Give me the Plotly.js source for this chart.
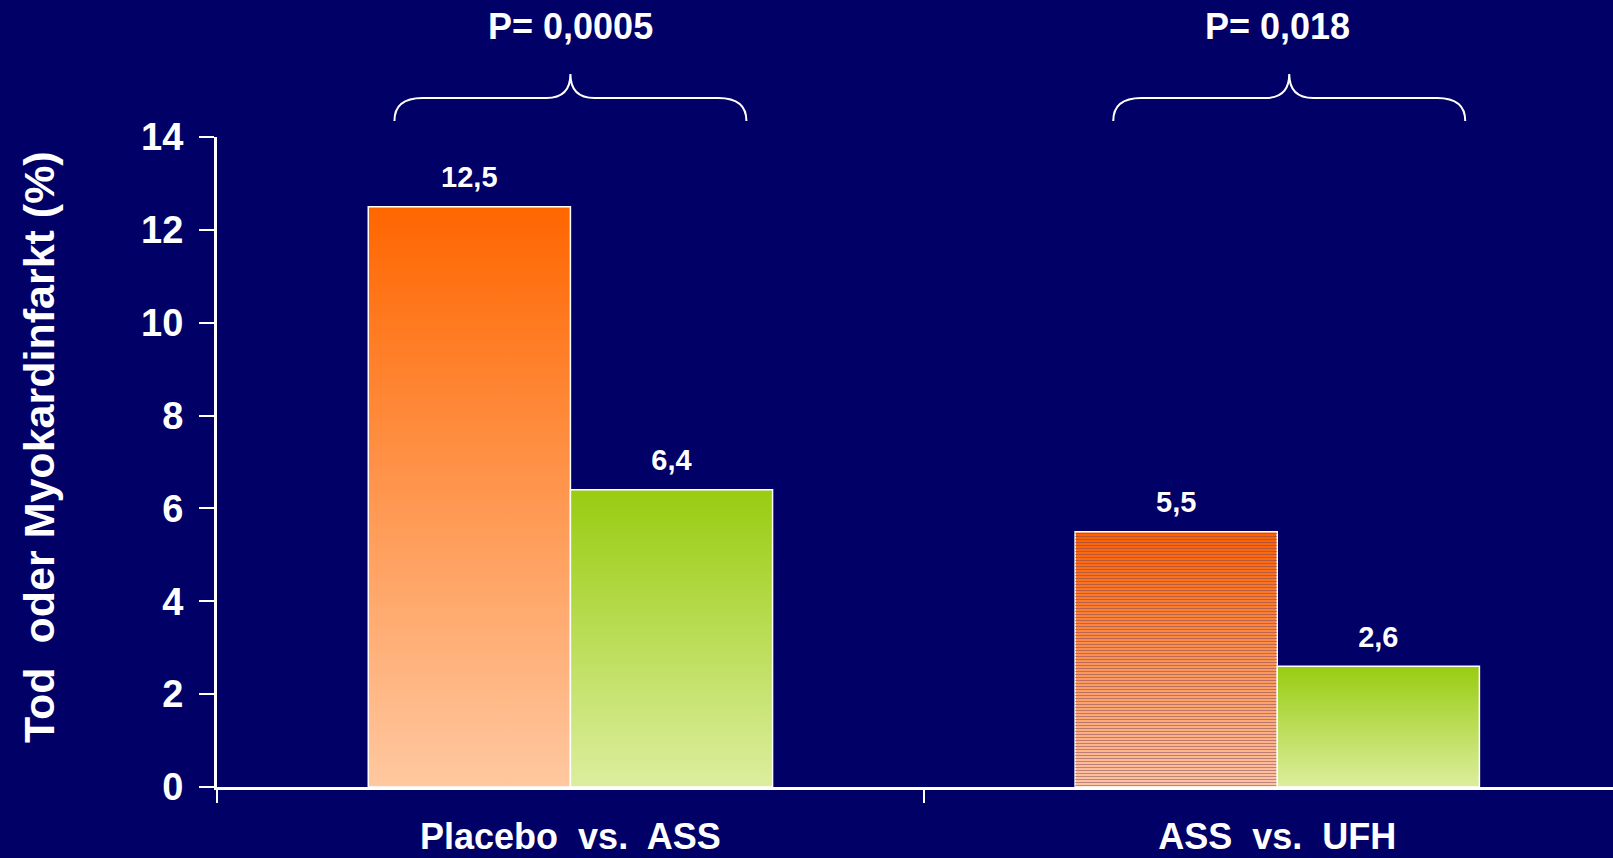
<!DOCTYPE html>
<html>
<head>
<meta charset="utf-8">
<script src="https://cdn.plot.ly/plotly-3.0.1.min.js"></script>
<style>
  html, body { margin: 0; padding: 0; background: #000066; }
  #chart { width: 1613px; height: 858px; }
</style>
</head>
<body>
<div id="chart"></div>
<script>
// ---- data ----
const categories = ['Placebo  vs.  ASS', 'ASS  vs.  UFH'];
const firstValues = [12.5, 5.5];   // orange bars
const secondValues = [6.4, 2.6];   // green bars
const pLabels = ['P= 0,0005', 'P= 0,018'];
const yTickValues = [0, 2, 4, 6, 8, 10, 12, 14];
const yTitle = 'Tod  oder Myokardinfarkt (%)';

const FONT = 'Liberation Sans, Arial, Helvetica, sans-serif';
const BG = '#000066';

// plot geometry helpers (for the decorative braces / titles only)
const PLOT_H = 650;
const X_RANGE = [-0.5, 1.475];
const PLOT_L = 217;
const PLOT_W = 1613 - PLOT_L;
const pxX = (X_RANGE[1] - X_RANGE[0]) / PLOT_W;
const pxY = 1 / PLOT_H;
const braceShiftPx = [0, 12];

function bracePath(c) {
  const half = 176 * pxX, rEnd = 28 * pxX, rMid = 24 * pxX;
  const yEnd = 1 + 16 * pxY, yMid = 1 + 39 * pxY, yTop = 1 + 63 * pxY;
  const xl = c - half, xr = c + half;
  return `M${xl},${yEnd} Q${xl},${yMid} ${xl + rEnd},${yMid} L${c - rMid},${yMid} ` +
         `Q${c},${yMid} ${c},${yTop} Q${c},${yMid} ${c + rMid},${yMid} ` +
         `L${xr - rEnd},${yMid} Q${xr},${yMid} ${xr},${yEnd}`;
}

const barLine = { color: 'white', width: 1.5 };
const labelFont = { family: FONT, size: 29, color: 'white', weight: 'bold' };
const traces = [
  { type: 'bar', x: categories, y: firstValues, marker: { color: '#ff8a4a', line: barLine }, hoverinfo: 'none' },
  { type: 'bar', x: categories, y: secondValues, marker: { color: '#b8dd55', line: barLine }, hoverinfo: 'none' },
  { type: 'scatter', mode: 'markers+text', x: categories, y: firstValues,
    texttemplate: '%{y:.1f}', textposition: 'top center',
    marker: { size: 18, color: 'rgba(0,0,0,0)' }, textfont: labelFont, hoverinfo: 'none' },
  { type: 'scatter', mode: 'markers+text', x: categories, y: secondValues,
    texttemplate: '%{y:.1f}', textposition: 'top center',
    marker: { size: 18, color: 'rgba(0,0,0,0)' }, textfont: labelFont, hoverinfo: 'none' }
];

const annotations = pLabels.map((t, i) => ({
  text: t, xref: 'x', yref: 'paper', x: i, y: 1 + 110 * pxY,
  xanchor: 'center', yanchor: 'middle', showarrow: false,
  font: { family: FONT, size: 36, color: 'white', weight: 'bold' }
}));
annotations.push({
  text: yTitle, xref: 'paper', yref: 'paper',
  x: (39 - PLOT_L) / PLOT_W, y: (787 - 447) / PLOT_H,
  xanchor: 'center', yanchor: 'middle', textangle: -90, showarrow: false,
  font: { family: FONT, size: 43, color: 'white', weight: 'bold' }
});

const layout = {
  width: 1613, height: 858,
  paper_bgcolor: BG, plot_bgcolor: BG,
  separators: ',.',
  showlegend: false,
  margin: { l: PLOT_L, r: 0, t: 137, b: 71, pad: 0 },
  barmode: 'group', bargap: 0.428, bargroupgap: 0,
  scattermode: 'group', scattergap: 0.428,
  font: { family: FONT, color: 'white', weight: 'bold' },
  xaxis: {
    type: 'category', range: X_RANGE, tickson: 'boundaries',
    ticks: 'outside', ticklen: 13, tickwidth: 2, tickcolor: 'white',
    showline: true, linecolor: 'white', linewidth: 3,
    showgrid: false, zeroline: false,
    ticklabelstandoff: 16,
    tickfont: { family: FONT, size: 36, color: 'white', weight: 'bold' }
  },
  yaxis: {
    range: [0, 14], tickvals: yTickValues,
    ticks: 'outside', ticklen: 15, tickwidth: 2, tickcolor: 'white',
    showline: true, linecolor: 'white', linewidth: 3,
    showgrid: false, zeroline: false,
    ticklabelstandoff: 8,
    tickfont: { family: FONT, size: 38, color: 'white', weight: 'bold' }
  },
  annotations: annotations,
  shapes: categories.map((_, i) => ({
    type: 'path', xref: 'x', yref: 'paper', path: bracePath(i + braceShiftPx[i] * pxX),
    line: { color: 'white', width: 2 }
  }))
};

const NS = 'http://www.w3.org/2000/svg';
function addGradient(defs, id, top, bottom) {
  const g = document.createElementNS(NS, 'linearGradient');
  g.setAttribute('id', id);
  g.setAttribute('x1', '0'); g.setAttribute('y1', '0');
  g.setAttribute('x2', '0'); g.setAttribute('y2', '1');
  [[0, top], [1, bottom]].forEach(([o, c]) => {
    const s = document.createElementNS(NS, 'stop');
    s.setAttribute('offset', o);
    s.setAttribute('stop-color', c);
    g.appendChild(s);
  });
  defs.appendChild(g);
}

const gd = document.getElementById('chart');
Plotly.newPlot(gd, traces, layout, { staticPlot: true, displayModeBar: false }).then(() => {
  const svg = gd.querySelector('svg.main-svg');
  let defs = svg.querySelector('defs');
  if (!defs) { defs = document.createElementNS(NS, 'defs'); svg.insertBefore(defs, svg.firstChild); }
  addGradient(defs, 'gOrange', '#ff6600', '#ffc8a0');
  addGradient(defs, 'gOrange2', '#fa6000', '#ffc4a2');
  addGradient(defs, 'gGreen', '#99cc11', '#dcee9e');
  const pat = document.createElementNS(NS, 'pattern');
  pat.setAttribute('id', 'stripes');
  pat.setAttribute('patternUnits', 'userSpaceOnUse');
  pat.setAttribute('width', '10'); pat.setAttribute('height', '3');
  const r = document.createElementNS(NS, 'rect');
  r.setAttribute('x', '0'); r.setAttribute('y', '0');
  r.setAttribute('width', '10'); r.setAttribute('height', '1');
  r.setAttribute('fill', 'rgba(120,70,100,0.5)');
  pat.appendChild(r);
  defs.appendChild(pat);

  const barTraces = gd.querySelectorAll('.barlayer .trace');
  barTraces.forEach((tr, ti) => {
    const paths = tr.querySelectorAll('.point path');
    paths.forEach((p, pi) => {
      if (ti === 0) {
        p.style.fill = pi === 1 ? 'url(#gOrange2)' : 'url(#gOrange)';
        p.style.fillOpacity = 1;
        if (pi === 1) {
          const c = p.cloneNode(true);
          c.style.fill = 'url(#stripes)';
          c.style.stroke = 'none';
          p.parentNode.appendChild(c);
        }
      } else {
        p.style.fill = 'url(#gGreen)';
        p.style.fillOpacity = 1;
      }
    });
  });
});
</script>
</body>
</html>
